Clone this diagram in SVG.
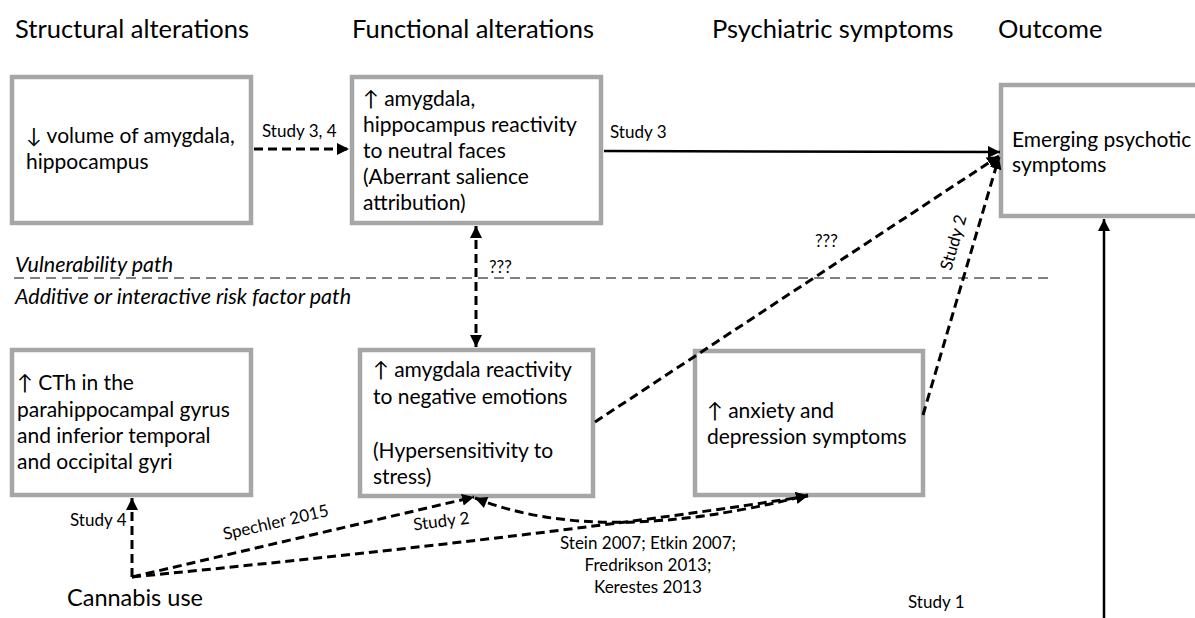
<svg xmlns="http://www.w3.org/2000/svg" width="1195" height="618" viewBox="0 0 1195 618">
<style>
text{font-family:Lato,"Liberation Sans",sans-serif;fill:#000}
.hdr{font-size:25.5px}
.bx{font-size:21px}
.lbl{font-size:17px}
.ital{font-size:21.5px;font-style:italic}
.box{fill:#fff;stroke:#a6a6a6;stroke-width:4.5}
.dash{fill:none;stroke:#000;stroke-width:3;stroke-dasharray:9 5}
.solid{fill:none;stroke:#000;stroke-width:2.5}
</style>
<defs>
<marker id="ah" markerUnits="userSpaceOnUse" markerWidth="14" markerHeight="12" refX="12" refY="6" orient="auto">
<path d="M0,0 L12,6 L0,12 Z" fill="#000"/>
</marker>
<marker id="ahs" markerUnits="userSpaceOnUse" markerWidth="14" markerHeight="12" refX="0" refY="6" orient="auto">
<path d="M12,0 L0,6 L12,12 Z" fill="#000"/>
</marker>
</defs>
<rect width="1195" height="618" fill="#fff"/>
<g id="headers">
<text class="hdr" x="15" y="38">Structural alterations</text>
<text class="hdr" x="352" y="38">Functional alterations</text>
<text class="hdr" x="712" y="38">Psychiatric symptoms</text>
<text class="hdr" x="998" y="38">Outcome</text>
</g>
<g id="paths-divider">
<line x1="14" y1="278" x2="1054" y2="278" stroke="#808080" stroke-width="2" stroke-dasharray="10 6"/>
<text class="ital" x="15" y="272">Vulnerability path</text>
<text class="ital" x="15" y="304">Additive or interactive risk factor path</text>
</g>
<g id="node-volume">
<rect class="box" x="12" y="77" width="239" height="146"/>
<text class="bx" x="26" y="143">↓ volume of amygdala,</text>
<text class="bx" x="26" y="169">hippocampus</text>
</g>
<g id="node-reactivity-neutral">
<rect class="box" x="352" y="77" width="249" height="146"/>
<text class="bx" x="363" y="106">↑ amygdala,</text>
<text class="bx" x="363" y="132">hippocampus reactivity</text>
<text class="bx" x="363" y="158">to neutral faces</text>
<text class="bx" x="363" y="184">(Aberrant salience</text>
<text class="bx" x="363" y="210">attribution)</text>
</g>
<g id="node-emerging">
<rect class="box" x="1001" y="85" width="210" height="131"/>
<text class="bx" x="1012" y="147">Emerging psychotic</text>
<text class="bx" x="1012" y="172">symptoms</text>
</g>
<g id="node-cth">
<rect class="box" x="12" y="350" width="239" height="145"/>
<text class="bx" x="17" y="390">↑ CTh in the</text>
<text class="bx" x="17" y="417">parahippocampal gyrus</text>
<text class="bx" x="17" y="443">and inferior temporal</text>
<text class="bx" x="17" y="469">and occipital gyri</text>
</g>
<g id="node-reactivity-negative">
<rect class="box" x="360" y="350" width="233" height="146"/>
<text class="bx" x="373" y="377">↑ amygdala reactivity</text>
<text class="bx" x="373" y="404">to negative emotions</text>
<text class="bx" x="373" y="458">(Hypersensitivity to</text>
<text class="bx" x="373" y="484">stress)</text>
</g>
<g id="node-anxiety">
<rect class="box" x="695" y="351" width="228" height="144"/>
<text class="bx" x="707" y="418">↑ anxiety and</text>
<text class="bx" x="707" y="444">depression symptoms</text>
</g>
<g id="node-cannabis">
<text x="67" y="606" style="font-size:23.5px">Cannabis use</text>
</g>
<g id="connectors">
<line class="dash" x1="254" y1="149" x2="349" y2="149" marker-end="url(#ah)"/>
<text class="lbl" x="262" y="137">Study 3, 4</text>
<line class="solid" x1="604" y1="151" x2="1000" y2="152" marker-end="url(#ah)"/>
<text class="lbl" x="610" y="138">Study 3</text>
<line class="dash" x1="476" y1="226" x2="476" y2="347" marker-start="url(#ahs)" marker-end="url(#ah)"/>
<text class="lbl" x="489" y="273">???</text>
<line class="dash" x1="595" y1="422" x2="999" y2="156" marker-end="url(#ah)"/>
<text class="lbl" x="815" y="247">???</text>
<line class="dash" x1="923" y1="415" x2="999" y2="157" marker-end="url(#ah)"/>
<text class="lbl" transform="translate(959,244) rotate(-74)" text-anchor="middle">Study 2</text>
<line class="solid" x1="1104" y1="618" x2="1104" y2="219" stroke-width="3" marker-end="url(#ah)"/>
<text class="lbl" x="908" y="608">Study 1</text>
<polyline class="dash" points="132,577 132,498" marker-end="url(#ah)"/>
<text class="lbl" x="70" y="526">Study 4</text>
<line class="dash" x1="132" y1="577" x2="474" y2="497" marker-end="url(#ah)"/>
<text class="lbl" transform="translate(277,528) rotate(-13)" text-anchor="middle">Spechler 2015</text>
<path class="dash" d="M132,577 Q560,535 808,496" marker-end="url(#ah)"/>
<text class="lbl" transform="translate(442,527) rotate(-7)" text-anchor="middle">Study 2</text>
<path class="dash" d="M475,498 Q600,548 808,495" marker-start="url(#ahs)" marker-end="url(#ah)"/>
<text class="lbl" x="648" y="549" text-anchor="middle">Stein 2007; Etkin 2007;</text>
<text class="lbl" x="648" y="571" text-anchor="middle">Fredrikson 2013;</text>
<text class="lbl" x="648" y="593" text-anchor="middle">Kerestes 2013</text>
</g>
</svg>
